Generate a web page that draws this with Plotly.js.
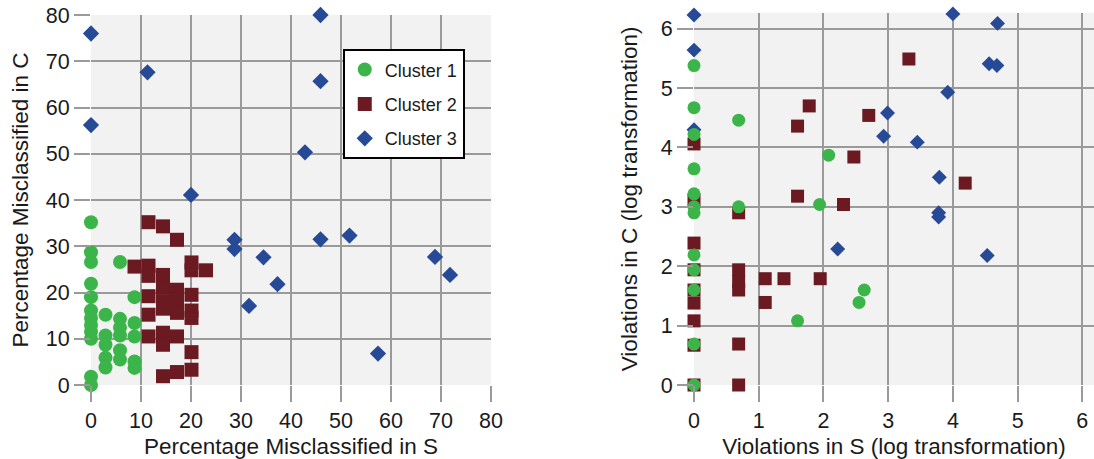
<!DOCTYPE html>
<html>
<head>
<meta charset="utf-8">
<script src="https://cdn.plot.ly/plotly-3.0.1.min.js"></script>
<style>html,body{margin:0;padding:0;background:#fff;}#chart{width:1094px;height:459px;}</style>
</head>
<body>
<div id="chart"></div>
<script>
// ---- Left panel: percentage misclassified ----
const leftC1_x = [0,0,0,5.8,0,0,8.7,0,0,0,0,0,2.9,5.8,5.8,5.8,8.7,8.7,2.9,2.9,5.8,5.8,2.9,2.9,8.7,8.7,0,0];
const leftC1_y = [35.2,28.7,26.6,26.6,21.9,19.0,19.0,16.1,14.5,13,11.5,10,15.2,14.3,12.4,10.7,13.4,10.5,10.7,8.7,7.5,5.5,5.9,3.8,5.1,3.7,1.8,0];
const leftC2_x = [11.5,14.4,17.2,8.7,11.5,11.5,14.4,20.1,20.1,23,11.5,14.4,14.4,14.4,17.2,17.2,17.2,20.1,20.1,20.1,11.5,11.5,14.4,14.4,17.2,20.1,20.1,17.2,14.4];
const leftC2_y = [35.2,34.3,31.4,25.6,25.8,23.6,23.8,26.5,24.8,24.8,19.2,21,18.1,16.5,20.6,18.4,15.6,19.5,16.1,14.5,15.2,10.5,11.3,8.7,10.5,7.1,3.3,2.8,1.9];
const leftC3_x = [0,11.3,0,42.8,20,45.9,45.9,45.9,51.7,68.8,71.8,37.3,28.7,28.7,34.5,31.6,57.4];
const leftC3_y = [76,67.6,56.2,50.3,41.1,80,65.7,31.5,32.3,27.7,23.8,21.8,31.4,29.4,27.6,17.1,6.8];

// ---- Right panel: violations (log transformation) ----
const rightC1_x = [0,0,0.69,0,2.08,0,0,0,0.69,1.94,0,0,0,0,0,0,1.60,2.63,2.55];
const rightC1_y = [5.38,4.67,4.46,4.22,3.87,3.64,3.22,3.0,3.0,3.04,2.9,2.19,1.94,1.60,0.69,0,1.08,1.60,1.39];
const rightC2_x = [0,1.78,1.60,2.47,1.60,2.31,0,0.69,0,0,0,0,0,0,0,0.69,0.69,0.69,0.69,0.69,1.10,1.39,1.95,1.10,3.32,2.70,4.19];
const rightC2_y = [4.06,4.70,4.36,3.84,3.18,3.04,3.12,2.9,2.39,1.94,1.60,1.38,1.08,0.67,0,1.94,1.74,1.60,0.69,0,1.79,1.79,1.79,1.39,5.49,4.54,3.40];
const rightC3_x = [0,0,0,4.0,4.61,4.69,4.56,4.68,3.92,2.99,2.93,3.45,3.79,3.78,3.78,4.53,2.22];
const rightC3_y = [6.23,5.64,4.30,6.25,6.30,6.09,5.41,5.38,4.93,4.58,4.19,4.09,3.50,2.90,2.83,2.18,2.29];

const seriesNames = ['Cluster 1','Cluster 2','Cluster 3'];
const xTicksLeft = [0,10,20,30,40,50,60,70,80];
const yTicksLeft = [0,10,20,30,40,50,60,70,80];
const xTicksRight = [0,1,2,3,4,5,6];
const yTicksRight = [0,1,2,3,4,5,6];

const titles = {
  lx: 'Percentage Misclassified in S',
  ly: 'Percentage Misclassified in C',
  rx: 'Violations in S (log transformation)',
  ry: 'Violations in C (log transformation)'
};

const GREEN = '#3bb54a', RED = '#6a1a20', BLUE = '#274a96';
const FONT = 'Liberation Sans, Arial, Helvetica, sans-serif';
const TITLE_FONT = {family: FONT, size: 22.5, color: '#1a1a1a'};

function tr(x, y, name, sym, color, size, xa, ya, show, rank) {
  return {
    x: x, y: y, name: name, type: 'scatter', mode: 'markers',
    xaxis: xa, yaxis: ya, showlegend: show, legendrank: rank,
    legendgroup: name, cliponaxis: false,
    marker: {symbol: sym, color: color, size: size, line: {width: 0}}
  };
}

const data = [
  tr(leftC3_x, leftC3_y, seriesNames[2], 'diamond', BLUE, 12.5, 'x', 'y', true, 3),
  tr(leftC2_x, leftC2_y, seriesNames[1], 'square', RED, 14, 'x', 'y', true, 2),
  tr(leftC1_x, leftC1_y, seriesNames[0], 'circle', GREEN, 14, 'x', 'y', true, 1),
  tr(rightC3_x, rightC3_y, seriesNames[2], 'diamond', BLUE, 11.5, 'x2', 'y2', false, 3),
  tr(rightC2_x, rightC2_y, seriesNames[1], 'square', RED, 13, 'x2', 'y2', false, 2),
  tr(rightC1_x, rightC1_y, seriesNames[0], 'circle', GREEN, 13, 'x2', 'y2', false, 1)
];

function axis(extra) {
  return Object.assign({
    showgrid: true, gridcolor: '#9a9a9a', gridwidth: 2,
    zeroline: false, showline: false,
    ticks: 'outside', ticklen: 16, tickwidth: 2, tickcolor: '#9a9a9a',
    tickfont: {family: FONT, size: 21.5, color: '#1a1a1a'},
    fixedrange: true
  }, extra);
}

const layout = {
  width: 1094, height: 459,
  margin: {l: 0, r: 0, t: 0, b: 0},
  paper_bgcolor: '#ffffff',
  plot_bgcolor: '#f2f2f2',
  font: {family: FONT, color: '#1a1a1a'},
  showlegend: true,
  legend: {
    x: 0.3133, y: 0.8926, xanchor: 'left', yanchor: 'top',
    bgcolor: '#ffffff', bordercolor: '#000000', borderwidth: 2,
    font: {family: FONT, size: 18, color: '#1a1a1a'},
    tracegroupgap: 8
  },
  xaxis: axis({domain: [91/1094, 491/1094], range: [0, 80], tickvals: xTicksLeft, anchor: 'y',
    title: {text: titles.lx, font: TITLE_FONT, standoff: 10}}),
  yaxis: axis({domain: [1-385/459, 1-15/459], range: [0, 80], tickvals: yTicksLeft, anchor: 'x',
    title: {text: titles.ly, font: TITLE_FONT, standoff: 10}}),
  xaxis2: axis({domain: [694/1094, 1], range: [0, 6.18], tickvals: xTicksRight, anchor: 'y2',
    title: {text: titles.rx, font: TITLE_FONT, standoff: 10}}),
  yaxis2: axis({domain: [1-385/459, 1-12.7/459], range: [0, 6.27], tickvals: yTicksRight, anchor: 'x2',
    title: {text: titles.ry, font: TITLE_FONT, standoff: 16}})
};

Plotly.newPlot('chart', data, layout, {displayModeBar: false, staticPlot: true});
</script>
</body>
</html>
